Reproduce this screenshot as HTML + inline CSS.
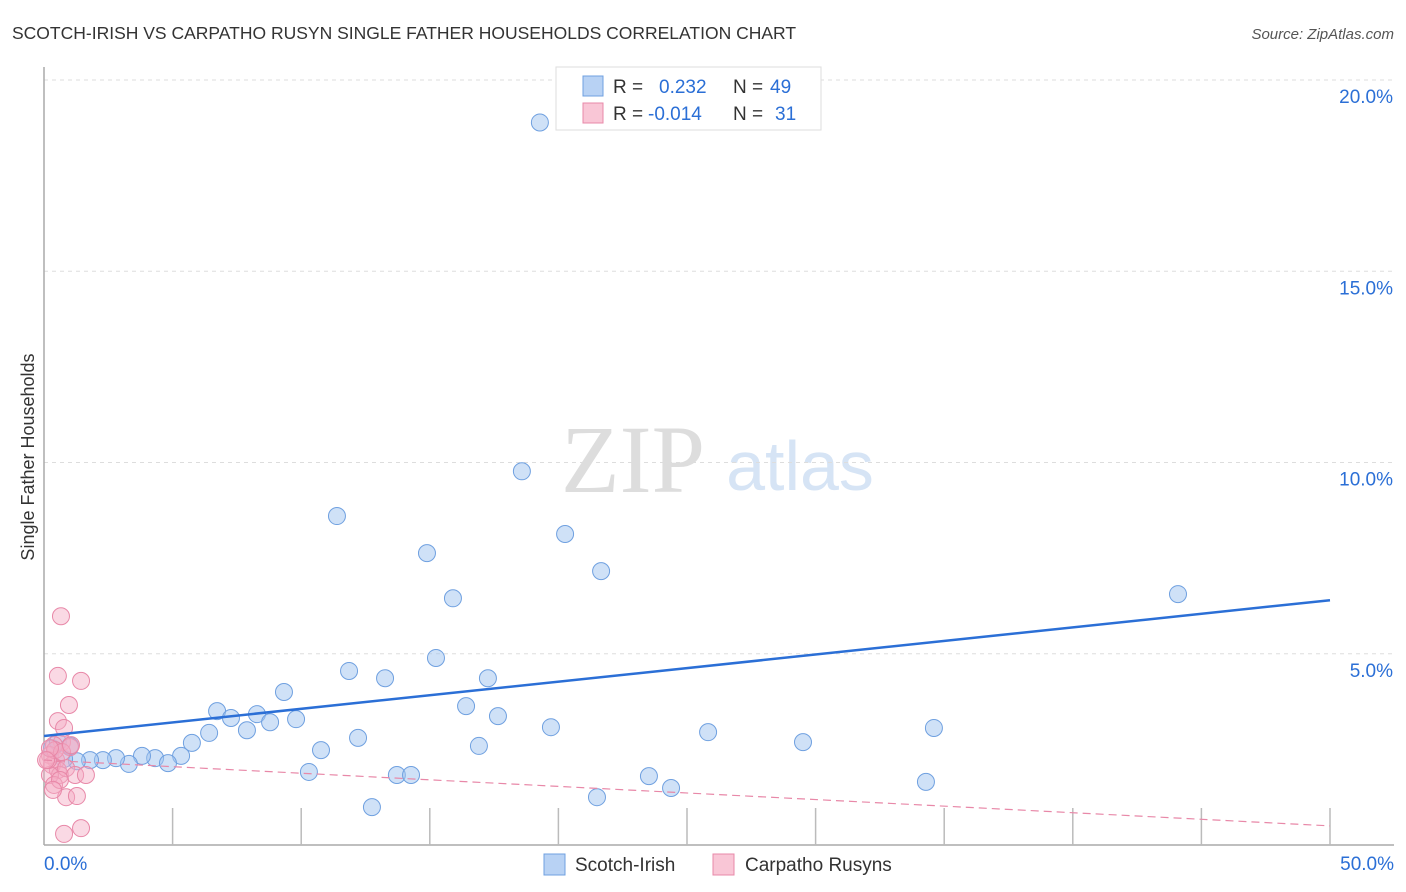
<!DOCTYPE html>
<html><head><meta charset="utf-8"><style>
body{margin:0;background:#fff;font-family:"Liberation Sans",sans-serif;}
svg{display:block}
</style></head><body>
<svg width="1406" height="892" xmlns="http://www.w3.org/2000/svg">
<text x="12" y="39" font-size="17.5" fill="#333">SCOTCH-IRISH VS CARPATHO RUSYN SINGLE FATHER HOUSEHOLDS CORRELATION CHART</text>
<text x="1394" y="39" font-size="15" fill="#555" font-style="italic" text-anchor="end">Source: ZipAtlas.com</text>
<text x="633" y="492" font-size="96" fill="#ddd" font-family="Liberation Serif,serif" text-anchor="middle">ZIP</text>
<text x="800" y="490" font-size="70" fill="#d6e4f5" text-anchor="middle">atlas</text>
<g id="grid"></g>
<g id="axes"></g>
<g id="marks"></g>
<text transform="translate(34,457) rotate(-90)" font-size="18" fill="#333" text-anchor="middle">Single Father Households</text>
<g>
<rect x="556" y="67" width="265" height="63" fill="#fff" stroke="#ddd"/>
<rect x="583" y="76" width="20" height="20" fill="#b8d2f4" stroke="#6fa0e0"/>
<rect x="583" y="103" width="20" height="20" fill="#f9c6d6" stroke="#e888a8"/>
<text x="613" y="93" font-size="19" fill="#333">R = <tspan fill="#2b6fd6" x="659">0.232</tspan><tspan x="733" fill="#333">N = </tspan><tspan fill="#2b6fd6" x="770">49</tspan></text>
<text x="613" y="120" font-size="19" fill="#333">R = <tspan fill="#2b6fd6" x="648">-0.014</tspan><tspan x="733" fill="#333">N = </tspan><tspan fill="#2b6fd6" x="775">31</tspan></text>
</g>
<g>
<rect x="544" y="854" width="21" height="21" fill="#b8d2f4" stroke="#6fa0e0"/>
<text x="575" y="871" font-size="19" fill="#333">Scotch-Irish</text>
<rect x="713" y="854" width="21" height="21" fill="#f9c6d6" stroke="#e888a8"/>
<text x="745" y="871" font-size="19" fill="#333">Carpatho Rusyns</text>
</g>
</svg>
<script>
const yTicks=[5,10,15,20];
const yTickLabels=["5.0%","10.0%","15.0%","20.0%"];
const xTickLabels=["0.0%","50.0%"];
const blueX=[19.28,18.58,11.39,14.89,20.26,21.66,15.90,44.09,11.86,15.24,13.26,17.26,9.33,6.73,7.27,8.28,9.80,8.79,6.42,7.89,16.41,17.65,12.21,19.71,10.77,16.91,25.82,34.60,29.51,5.75,5.33,4.32,3.81,4.82,3.30,2.80,2.29,1.79,1.28,0.78,0.31,0.54,1.01,10.30,13.72,14.27,23.52,24.38,34.29,21.50,12.75];
const blueY=[18.89,9.77,8.60,7.63,8.13,7.16,6.45,6.56,4.55,4.89,4.36,4.36,4.00,3.50,3.32,3.42,3.29,3.21,2.93,3.00,3.63,3.37,2.80,3.08,2.48,2.59,2.95,3.06,2.69,2.67,2.33,2.27,2.33,2.14,2.12,2.27,2.22,2.22,2.19,2.25,2.53,2.69,2.59,1.91,1.83,1.83,1.80,1.49,1.65,1.25,0.99];
const pinkX=[0.66,0.54,1.44,0.97,0.54,0.78,0.70,1.01,0.39,0.23,0.47,0.31,0.54,0.62,0.86,0.23,1.21,1.63,0.39,0.62,0.86,1.28,0.78,1.44,0.16,0.43,0.70,1.05,0.23,0.08,0.35];
const pinkY=[5.98,4.42,4.29,3.66,3.24,3.06,2.69,2.56,2.61,2.35,2.22,2.09,1.96,1.83,2.01,1.83,1.83,1.83,1.57,1.70,1.25,1.28,0.29,0.44,2.22,2.48,2.43,2.61,2.53,2.22,1.44];
const blueTrend=[2.85,6.40];
const pinkTrend=[2.22,0.50];

const NS="http://www.w3.org/2000/svg";
const X0=44,X1=1330,Y0=845,Y20=80;
const sx=v=>X0+(X1-X0)*v/50;
const sy=v=>Y0-(Y0-Y20)*v/20;
function mk(t,a,p){const e=document.createElementNS(NS,t);for(const k in a)e.setAttribute(k,a[k]);p.appendChild(e);return e;}
const grid=document.getElementById('grid'),axes=document.getElementById('axes'),marks=document.getElementById('marks');
yTicks.forEach((v,i)=>{
 const l=mk('line',{x1:X0,x2:X1+64,y1:sy(v),y2:sy(v),stroke:'#ddd','stroke-dasharray':'4,4'},grid);
 
 
 const t=mk('text',{x:1393,y:sy(v)+23,'font-size':19,fill:'#2b6fd6','text-anchor':'end'},axes);
 t.textContent=yTickLabels[i];
 
 
});
let a=mk('line',{x1:X0,x2:X0,y1:67,y2:Y0,stroke:'#aaa','stroke-width':1.5},axes);


a=mk('line',{x1:X0,x2:X1+64,y1:Y0,y2:Y0,stroke:'#aaa','stroke-width':1.5},axes);


for(let i=1;i<=10;i++){
 const t=mk('line',{x1:sx(i*5),x2:sx(i*5),y1:808,y2:Y0,stroke:'#bbb','stroke-width':1.5},axes);
 
 
}
[[0,44,'start'],[1,1394,'end']].forEach(([i,x,an])=>{
 const t=mk('text',{x:x,y:870,'font-size':19,fill:'#2b6fd6','text-anchor':an},axes);
 t.textContent=xTickLabels[i];
 
 
});
blueX.forEach((v,i)=>{
 const c=mk('circle',{cx:sx(v),cy:sy(blueY[i]),r:8.5,fill:'rgba(160,196,240,0.5)',stroke:'#6fa0e0','stroke-width':1},marks);
 
 
});
pinkX.forEach((v,i)=>{
 const c=mk('circle',{cx:sx(v),cy:sy(pinkY[i]),r:8.5,fill:'rgba(245,170,195,0.45)',stroke:'#e888a8','stroke-width':1},marks);
 
 
});
let tl=mk('line',{x1:sx(0),x2:sx(50),y1:sy(blueTrend[0]),y2:sy(blueTrend[1]),stroke:'#2b6fd6','stroke-width':2.5},marks);


tl=mk('line',{x1:sx(0),x2:sx(50),y1:sy(pinkTrend[0]),y2:sy(pinkTrend[1]),stroke:'#e888a8','stroke-width':1.2,'stroke-dasharray':'8,5'},marks);


</script>
</body></html>
